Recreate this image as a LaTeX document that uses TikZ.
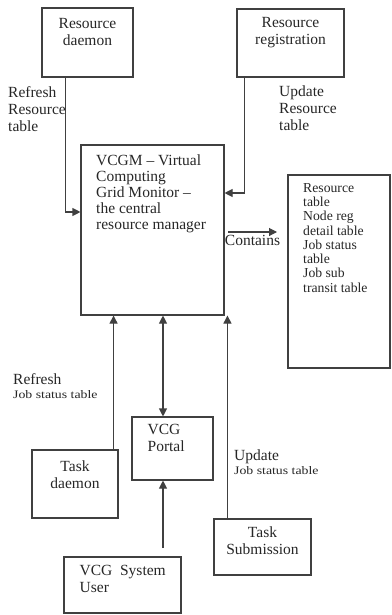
\documentclass[tikz,border=0pt]{standalone}
\usepackage{fontspec}
\setmainfont{Liberation Serif}
\usetikzlibrary{arrows.meta}

\newcommand{\widesmall}[1]{\scalebox{1.2}[1]{\fontsize{11.5}{13}\selectfont #1}}

\begin{document}
\begin{tikzpicture}[x=1pt, y=-1pt,
        box/.style = {draw=black!75, line width=1.1pt, inner sep=0pt},
        txt/.style = {align=left, inner sep=0pt, text=black!85, font=\fontsize{15.5}{17}\selectfont},
        line/.style = {draw=black!75, line width=1.1pt},
        arr/.style = {line, -{Triangle[length=8pt,width=8pt]}},
        arrs/.style = {line, {Triangle[length=8pt,width=8pt]}-{Triangle[length=8pt,width=8pt]}}]

        \useasboundingbox (0,0) rectangle (391,615);

        % boxes
        \node[box, minimum width=91, minimum height=69] (rd) at (87.5, 42.5) {};
        \node[box, minimum width=107, minimum height=68] (rr) at (290.5, 43) {};
        \node[box, minimum width=143, minimum height=170] (vcgm) at (152.5, 230) {};
        \node[box, minimum width=102, minimum height=193] (tab) at (339, 271.5) {};
        \node[box, minimum width=86, minimum height=68] (td) at (75, 484) {};
        \node[box, minimum width=81, minimum height=63] (portal) at (172.5, 448.5) {};
        \node[box, minimum width=117, minimum height=56] (user) at (122.5, 585) {};
        \node[box, minimum width=97, minimum height=56] (ts) at (262.5, 547) {};

        % box texts
        \node[txt, align=center, anchor=north] (rdt) at ([yshift=-11]rd.north) {Resource\\daemon};
        \node[txt, align=center, anchor=north] (rrt) at ([yshift=-9]rr.north) {Resource\\registration};
        \node[txt, anchor=north west, font=\fontsize{15.5}{16}\selectfont] (vcgmt) at (96, 155)
            {VCGM -- Virtual\\Computing\\Grid Monitor --\\the central\\resource manager};
        \node[txt, anchor=north west, font=\fontsize{13.7}{14.3}\selectfont] (tabt) at (303, 183)
            {Resource\\table\\Node reg\\detail table\\Job status\\table\\Job sub\\transit table};
        \node[txt, align=center, anchor=north] (tdt) at ([yshift=-11]td.north) {Task\\daemon};
        \node[txt, anchor=north west] (portalt) at ([xshift=16, yshift=-8]portal.north west) {VCG\\Portal};
        \node[txt, anchor=north west] (usert) at ([xshift=16, yshift=-9]user.north west) {VCG~ System\\User};
        \node[txt, align=center, anchor=north] (tst) at ([yshift=-8]ts.north) {Task\\Submission};

        % connector labels
        \node[txt, anchor=north west] (l1) at (8, 86) {Refresh\\Resource\\table};
        \node[txt, anchor=north west] (l2) at (279, 86) {Update\\Resource\\table};
        \node[txt, anchor=north west] (l3) at (13, 373) {Refresh\\[-3pt]\widesmall{Job status table}};
        \node[txt, anchor=north west] (l4) at (234, 450) {Update\\[-3pt]\widesmall{Job status table}};

        % connectors
        \draw[arr] ([xshift=24]rd.south west) |- ([yshift=18]vcgm.west);
        \draw[arr] ([xshift=8]rr.south west) |- ([yshift=37]vcgm.east);

        \coordinate (c1) at (228, 232);
        \coordinate (c2) at (277, 232);
        \draw[arr] (c1) -- (c2) node[txt, midway, below=3pt] (cont) {Contains};

        \coordinate (tdtop) at ([xshift=-5]td.north east);
        \draw[arr] (tdtop) -- (tdtop |- vcgm.south);

        \coordinate (ptop) at ([xshift=-9.5]portal.north);
        \draw[arrs] (ptop) -- (ptop |- vcgm.south);

        \coordinate (utop) at (163, 548);
        \draw[arr] (utop) -- (utop |- portal.south);

        \coordinate (tstop) at ([xshift=14]ts.north west);
        \draw[arr] (tstop) -- (tstop |- vcgm.south);

    \end{tikzpicture}
\end{document}
